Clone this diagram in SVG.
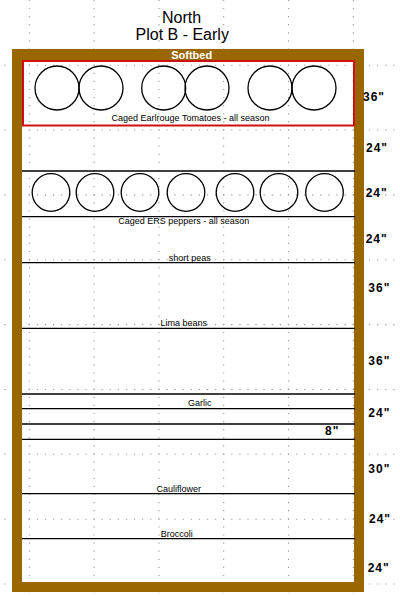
<svg xmlns="http://www.w3.org/2000/svg" width="400" height="596" viewBox="0 0 400 596">
<style>
.grid{stroke:#9a9a9a;stroke-width:1.1;stroke-dasharray:1.2 6.9;fill:none}
.row{stroke:#000;stroke-width:1.3}
.cage{fill:none;stroke:#000;stroke-width:1.3}
.lbl{font-family:"Liberation Sans",Arial,sans-serif;font-size:9px;fill:#000;text-anchor:middle}
.dim{font-family:"Liberation Sans",Arial,sans-serif;font-size:12px;font-weight:bold;fill:#000;letter-spacing:1px}
.title{font-family:"Liberation Sans",Arial,sans-serif;font-size:16px;fill:#000;text-anchor:middle}
</style>
<rect width="400" height="596" fill="#fff"/>
<g id="grid">
<line class="grid" x1="29.3" y1="-0.2" x2="29.3" y2="596"/>
<line class="grid" x1="94.1" y1="-0.2" x2="94.1" y2="596"/>
<line class="grid" x1="158.9" y1="-0.2" x2="158.9" y2="596"/>
<line class="grid" x1="223.7" y1="-0.2" x2="223.7" y2="596"/>
<line class="grid" x1="288.5" y1="-0.2" x2="288.5" y2="596"/>
<line class="grid" x1="353.3" y1="-0.2" x2="353.3" y2="596"/>
<line class="grid" x1="-3.7" y1="65.2" x2="400" y2="65.2"/>
<line class="grid" x1="-3.7" y1="130" x2="400" y2="130"/>
<line class="grid" x1="-3.7" y1="194.9" x2="400" y2="194.9"/>
<line class="grid" x1="-3.7" y1="259.8" x2="400" y2="259.8"/>
<line class="grid" x1="-3.7" y1="324.6" x2="400" y2="324.6"/>
<line class="grid" x1="-3.7" y1="389.5" x2="400" y2="389.5"/>
<line class="grid" x1="-3.7" y1="454.3" x2="400" y2="454.3"/>
<line class="grid" x1="-3.7" y1="519.2" x2="400" y2="519.2"/>
<line class="grid" x1="-3.7" y1="584" x2="400" y2="584"/>
</g>
<g id="title">
<text class="title" x="181.5" y="23.2">North</text>
<text class="title" x="182.2" y="39.8">Plot B - Early</text>
</g>
<g id="frame">
<path d="M12 49H364V592H12Z M22 60V582H354V60Z" fill="#996600" fill-rule="evenodd"/>
<text x="191.7" y="58.6" font-family="'Liberation Sans',Arial,sans-serif" font-size="11" font-weight="bold" fill="#fff" text-anchor="middle">Softbed</text>
</g>
<g id="connectors">
<line class="row" x1="22" y1="171" x2="355" y2="171"/>
<line class="row" x1="22" y1="216.7" x2="355" y2="216.7"/>
<line class="row" x1="22" y1="262.7" x2="355" y2="262.7"/>
<line class="row" x1="22" y1="328.3" x2="355" y2="328.3"/>
<line class="row" x1="22" y1="394" x2="355" y2="394"/>
<line class="row" x1="22" y1="408.7" x2="355" y2="408.7"/>
<line class="row" x1="22" y1="424" x2="355" y2="424"/>
<line class="row" x1="22" y1="439.3" x2="355" y2="439.3"/>
<line class="row" x1="22" y1="493.7" x2="355" y2="493.7"/>
<line class="row" x1="22" y1="538.7" x2="355" y2="538.7"/>
</g>
<g id="tomatoes">
<rect x="23" y="61" width="331" height="64.5" fill="none" stroke="#d01010" stroke-width="2"/>
<circle class="cage" cx="57" cy="88" r="22"/>
<circle class="cage" cx="101" cy="88" r="22"/>
<circle class="cage" cx="163.7" cy="88" r="22"/>
<circle class="cage" cx="207" cy="88" r="22"/>
<circle class="cage" cx="270" cy="88" r="22"/>
<circle class="cage" cx="314" cy="88" r="22"/>
<text class="lbl" x="190.5" y="120.5">Caged Earlrouge Tomatoes - all season</text>
</g>
<g id="peppers">
<circle class="cage" cx="51" cy="192.5" r="18.8"/>
<circle class="cage" cx="95" cy="192.5" r="18.8"/>
<circle class="cage" cx="140" cy="192.5" r="18.8"/>
<circle class="cage" cx="186" cy="192.5" r="18.8"/>
<circle class="cage" cx="235" cy="192.5" r="18.8"/>
<circle class="cage" cx="279" cy="192.5" r="18.8"/>
<circle class="cage" cx="324.5" cy="192.5" r="18.8"/>
<text class="lbl" x="183.8" y="223.5">Caged ERS peppers - all season</text>
</g>
<g id="peas"><text class="lbl" x="189.7" y="261">short peas</text></g>
<g id="lima"><text class="lbl" x="183.8" y="325.7">Lima beans</text></g>
<g id="garlic"><text class="lbl" x="199.7" y="406">Garlic</text></g>
<g id="cauliflower"><text class="lbl" x="178.8" y="491.7">Cauliflower</text></g>
<g id="broccoli"><text class="lbl" x="176.8" y="536.7">Broccoli</text></g>
<g id="dimensions">
<text class="dim" x="363" y="100.5">36"</text>
<text class="dim" x="366" y="152.3">24"</text>
<text class="dim" x="365.7" y="197.4">24"</text>
<text class="dim" x="365.7" y="242.7">24"</text>
<text class="dim" x="368.3" y="292.3">36"</text>
<text class="dim" x="368.3" y="365.3">36"</text>
<text class="dim" x="368.3" y="417.3">24"</text>
<text class="dim" x="325" y="435.2">8"</text>
<text class="dim" x="368.3" y="472.7">30"</text>
<text class="dim" x="369" y="522.7">24"</text>
<text class="dim" x="367.7" y="571.7">24"</text>
</g>
</svg>
